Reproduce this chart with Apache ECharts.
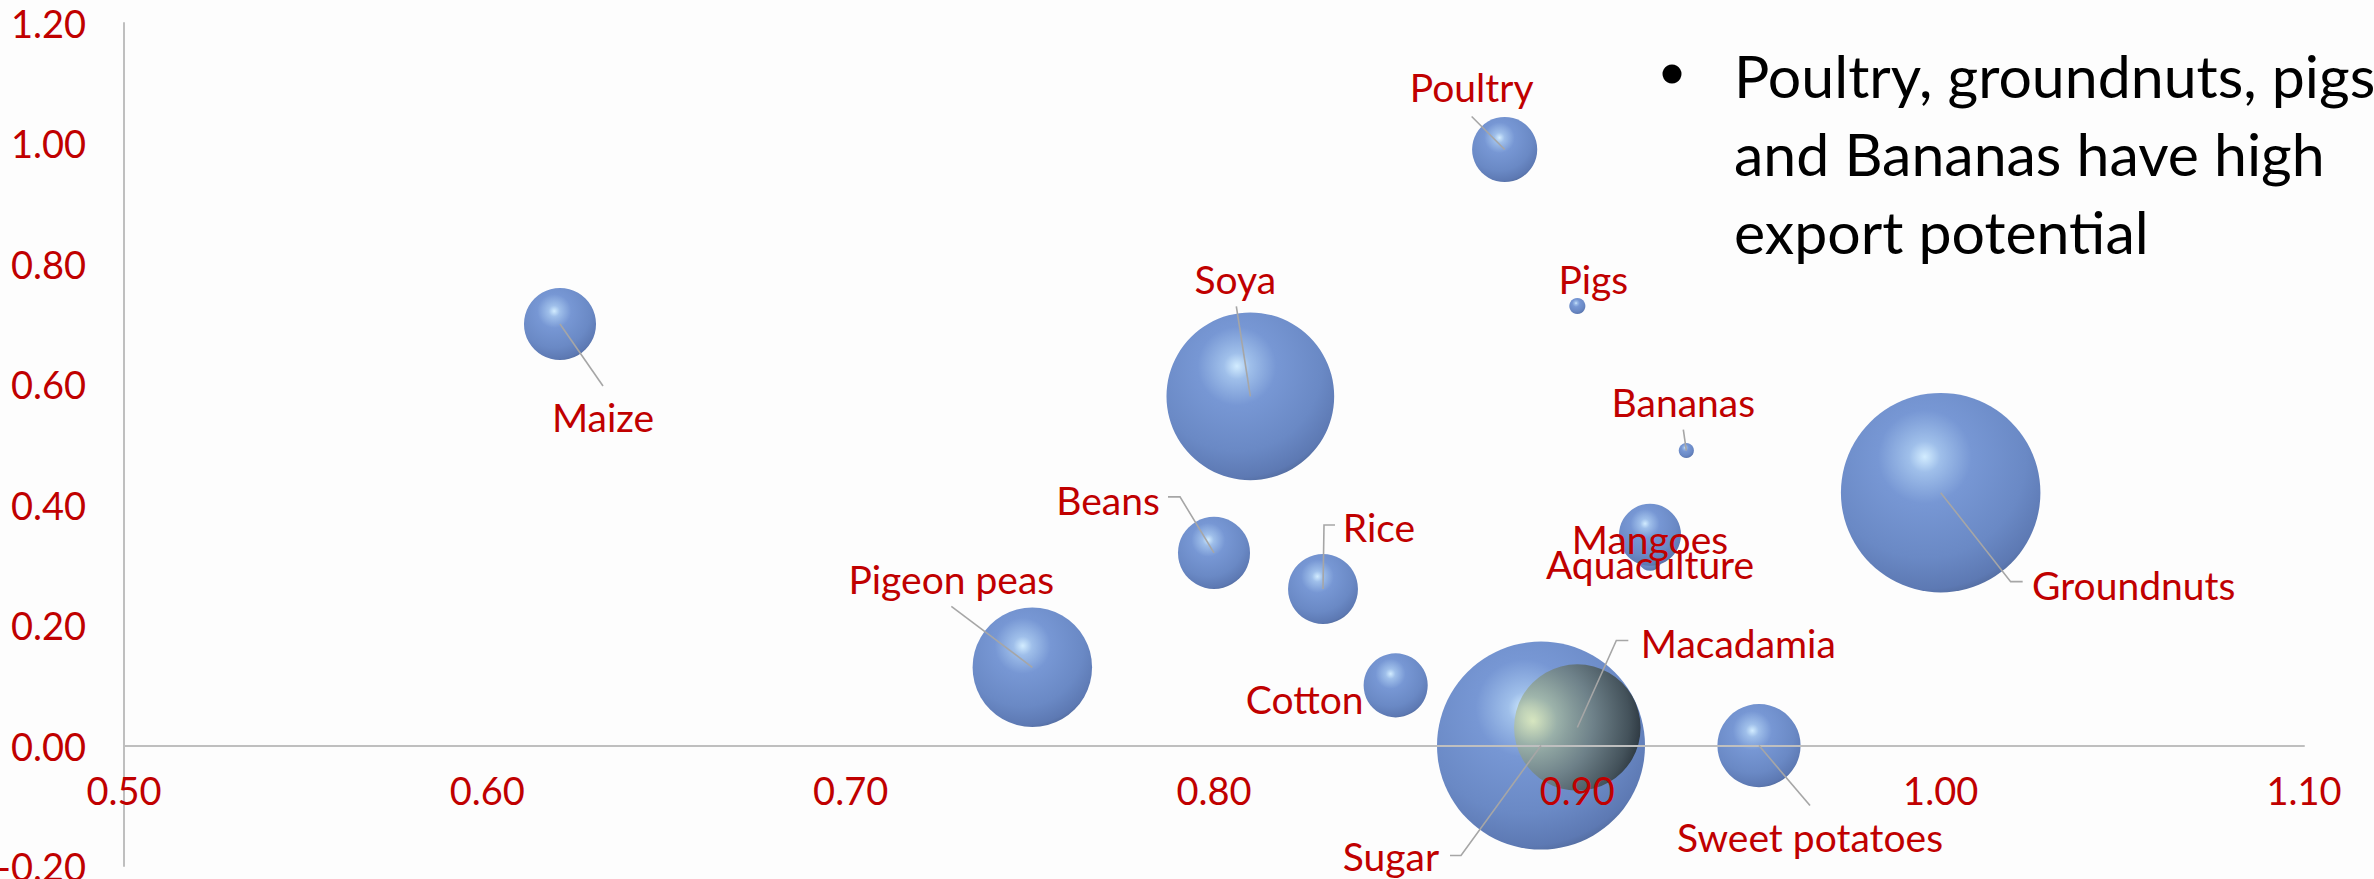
<!DOCTYPE html>
<html>
<head>
<meta charset="utf-8">
<title>Export potential bubbles</title>
<script src="https://cdn.jsdelivr.net/npm/echarts@6/dist/echarts.min.js"></script>
<style>
  html, body { margin: 0; padding: 0; background: #fdfdfd; }
  #chart { width: 2374px; height: 879px; }
</style>
</head>
<body>
<div id="chart"></div>
<script>
// crops, drawn in this order (big ones first so small ones sit on top)
var crops   = ['Sugar', 'Groundnuts', 'Soya', 'Macadamia', 'Pigeon peas', 'Sweet potatoes', 'Maize', 'Beans', 'Rice', 'Poultry', 'Cotton', 'Aquaculture', 'Mangoes', 'Pigs', 'Bananas'];
var xValues = [0.89, 1.00, 0.81, 0.90, 0.75, 0.95, 0.62, 0.80, 0.83, 0.88, 0.85, 0.92, 0.92, 0.90, 0.93];
var yValues = [0.00, 0.42, 0.58, 0.03, 0.13, 0.00, 0.70, 0.32, 0.26, 0.99, 0.10, 0.31, 0.35, 0.73, 0.49];
var sizes   = [100, 92, 65, 37, 33, 16, 12, 12, 11.3, 9.8, 9.5, 1.3, 8.9, 0.6, 0.53];

var bulletText = 'Poultry, groundnuts, pigs\nand Bananas have high\nexport potential';

// label placement (px from bubble centre) + leader line points
var labelPos = {
  'Sugar':          { dx: -150, dy: 110, line: [[-80, 110], [-91, 110]] },
  'Groundnuts':     { dx: 193,  dy: 92,  line: [[70, 89], [82, 89]] },
  'Soya':           { dx: -15,  dy: -117, line: [[-14, -90]] },
  'Macadamia':      { dx: 161,  dy: -85, line: [[39, -87], [51, -87]] },
  'Pigeon peas':    { dx: -81,  dy: -88, line: [[-81, -61]] },
  'Sweet potatoes': { dx: 51,   dy: 91,  line: [[51, 60]] },
  'Maize':          { dx: 43,   dy: 93,  line: [[43, 62]] },
  'Beans':          { dx: -106, dy: -53, line: [[-34, -56], [-46, -56]] },
  'Rice':           { dx: 56,   dy: -62, line: [[1, -64], [12, -64]] },
  'Poultry':        { dx: -33,  dy: -62, line: [[-33, -33]] },
  'Cotton':         { dx: -91,  dy: 14 },
  'Aquaculture':    { dx: 0,    dy: 5 },
  'Mangoes':        { dx: 0,    dy: 4 },
  'Pigs':           { dx: 16,   dy: -27 },
  'Bananas':        { dx: -3,   dy: -49, line: [[-3, -21]] }
};

var RED = '#C00000';
var FONT = 'Lato, "Open Sans", sans-serif';
var MAX_DIAM = 208;

var blueBall = {
  type: 'radial', x: 0.42, y: 0.32, r: 0.78,
  colorStops: [
    { offset: 0, color: '#d2ecff' },
    { offset: 0.1, color: '#9fbfea' },
    { offset: 0.3, color: '#7797d4' },
    { offset: 0.65, color: '#6a89c5' },
    { offset: 0.85, color: '#5d79b3' },
    { offset: 1, color: '#44587f' }
  ]
};
var darkBall = {
  type: 'radial', x: 0.15, y: 0.45, r: 0.95,
  colorStops: [
    { offset: 0, color: '#e4efb5' },
    { offset: 0.2, color: '#9fb39c' },
    { offset: 0.5, color: '#6d7d78' },
    { offset: 0.8, color: '#3a4440' },
    { offset: 1, color: '#0a0d0a' }
  ]
};

var bubbleData = crops.map(function (name, i) {
  var item = { name: name, value: [xValues[i], yValues[i], sizes[i]] };
  if (name === 'Macadamia') {
    item.itemStyle = { color: darkBall, opacity: 0.8 };
  }
  return item;
});

var chart = echarts.init(document.getElementById('chart'), null, { renderer: 'svg' });

var option = {
  backgroundColor: '#fdfdfd',
  animation: false,
  grid: { left: 124, right: 70, top: 23, bottom: 13, containLabel: false, outerBoundsMode: 'none' },
  xAxis: {
    type: 'value',
    min: 0.5, max: 1.1, interval: 0.1,
    z: 5,
    axisLine: { onZero: true, lineStyle: { color: '#bfbfbf', width: 2 } },
    axisTick: { show: false },
    splitLine: { show: false },
    axisLabel: {
      color: RED, fontSize: 38, fontFamily: FONT, margin: -95,
      formatter: function (v) { return v.toFixed(2); }
    }
  },
  yAxis: {
    type: 'value',
    min: -0.2, max: 1.2, interval: 0.2,
    axisLine: { show: true, onZero: false, lineStyle: { color: '#bfbfbf', width: 2 } },
    axisTick: { show: false },
    splitLine: { show: false },
    axisLabel: {
      color: RED, fontSize: 38, fontFamily: FONT, margin: 38,
      formatter: function (v) { return v.toFixed(2); }
    }
  },
  graphic: [
    { type: 'circle', shape: { cx: 1672, cy: 74, r: 9.5 }, style: { fill: '#000' } },
    {
      type: 'text', x: 1734, y: 36,
      style: { text: bulletText, font: '59px ' + FONT, fill: '#000', lineHeight: 78 }
    }
  ],
  series: [
    {
      type: 'scatter',
      z: 2,
      data: bubbleData,
      symbolSize: function (val) { return MAX_DIAM * Math.sqrt(val[2] / 100); },
      itemStyle: { color: blueBall, opacity: 1 }
    },
    {
      type: 'custom',
      z: 10,
      clip: false,
      silent: true,
      data: crops.map(function (name, i) { return [xValues[i], yValues[i], i]; }),
      renderItem: function (params, api) {
        var i = api.value(2);
        var c = api.coord([api.value(0), api.value(1)]);
        var lp = labelPos[crops[i]];
        var children = [];
        if (lp.line) {
          var pts = [[c[0], c[1]]].concat(lp.line.map(function (p) {
            return [c[0] + p[0], c[1] + p[1]];
          }));
          children.push({
            type: 'polyline',
            shape: { points: pts },
            style: { stroke: '#a6a6a6', lineWidth: 1.6, fill: null }
          });
        }
        children.push({
          type: 'text',
          x: c[0] + lp.dx, y: c[1] + lp.dy,
          style: {
            text: crops[i], fill: RED, font: '39px ' + FONT,
            align: 'center', verticalAlign: 'middle'
          }
        });
        return { type: 'group', children: children };
      }
    }
  ]
};

chart.setOption(option);
</script>
</body>
</html>
